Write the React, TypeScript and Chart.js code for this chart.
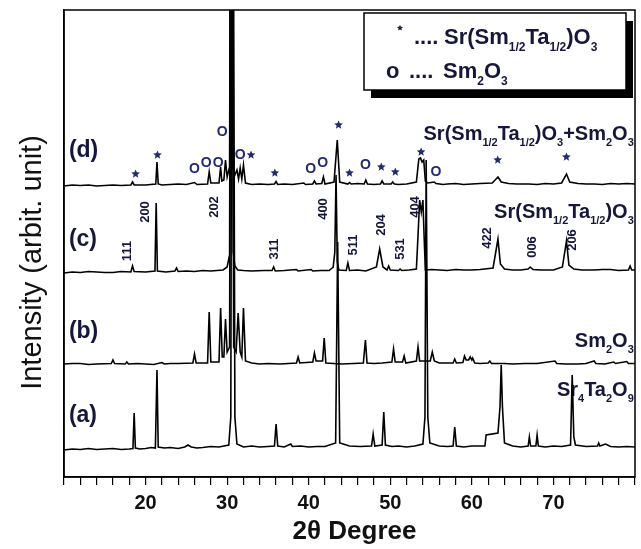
import React, { useEffect, useRef } from 'react';
import { Chart, registerables } from 'chart.js';

Chart.register(...registerables);

// ---------- axis settings ----------
const X_MIN = 10;
const X_MAX = 80;
const Y_MIN = 0;
const Y_MAX = 467;
const X_TICK_STEP = 2;
const X_TICK_LABELS = [20, 30, 40, 50, 60, 70];
const X_TITLE = '2θ Degree';
const Y_TITLE = 'Intensity (arbit. unit)';

// ---------- series: [2θ, intensity(offset)] ----------
const patternA: [number, number][] = [
  [10, 27], [11, 28], [12, 27.5], [13, 28.5], [14, 27.5], [15, 28], [16, 28.5], [17, 27.5], [18, 28], [18.45, 28.5], [18.6, 64], [18.75, 29],
  [19.3, 28], [20, 28.5], [20.7, 29.5], [21.2, 29], [21.4, 107], [21.55, 30], [22.3, 29], [23, 29.5], [24, 28.5], [24.8, 30], [25.2, 32], [25.6, 30],
  [26.3, 29], [27, 29.5], [28, 30.5], [29, 30], [30.2, 32], [30.45, 60], [30.65, 900], [30.95, 60], [31.2, 33], [32, 30],
  [33, 31], [34, 30], [35, 30.5], [35.8, 31], [36.0, 53], [36.2, 31], [37, 30], [37.8, 33], [38, 30.5], [39, 31], [40, 30], [41, 30.5], [42, 30.5],
  [43.3, 34], [43.55, 235], [43.8, 34], [45, 31], [46.3, 30.5], [47.7, 31], [47.9, 43], [48.1, 31], [49.0, 32],
  [49.2, 65], [49.4, 32], [50.2, 30.5], [51, 31], [52, 30], [53, 31], [54.0, 33], [54.25, 60], [54.4, 317], [54.6, 60],
  [54.85, 34], [56, 31], [57, 30.5], [57.7, 31], [57.9, 50], [58.1, 31], [59, 30], [60, 31], [61.6, 31], [61.75, 42],
  [63.2, 44], [63.45, 70], [63.6, 112], [63.75, 70], [64.0, 34], [65, 31], [66, 30], [66.9, 31], [67.05, 40],
  [67.2, 31], [67.85, 31], [68.0, 42], [68.15, 31], [69, 30], [70, 31], [71, 30.5], [72.1, 32], [72.3, 102], [72.5, 40],
  [72.7, 32], [74, 30.5], [75.4, 31], [75.55, 34], [75.7, 31], [76.4, 33], [77, 30.5], [78, 30], [79, 30.5], [80, 30],
];

const patternB: [number, number][] = [
  [10, 113], [11, 113.5], [12, 113.5], [13, 112.5], [14, 113], [15.8, 113.5], [16.0, 117], [16.2, 113.5], [17.5, 113], [17.7, 115],
  [17.9, 113], [19, 113.5], [20, 113], [21, 112.5], [22, 114.5], [22.3, 113], [23, 113.5], [24, 113.5], [25.8, 114], [26.0, 123], [26.2, 114],
  [27.6, 114], [27.8, 165], [28.0, 115], [29.0, 115], [29.2, 169], [29.4, 120], [29.6, 120], [29.8, 158],
  [30.0, 125], [30.3, 130], [30.55, 900], [30.8, 130], [31.1, 125], [31.35, 164], [31.6, 125], [31.8, 120],
  [32.0, 169], [32.25, 116], [33, 114], [34, 113], [35, 113.5], [36.5, 113], [38.5, 114], [38.7, 120], [38.9, 114], [40.5, 115],
  [40.7, 124], [40.9, 116], [41.7, 116], [41.9, 139], [42.1, 114], [44, 113], [45.5, 113.5], [46.7, 114], [46.95, 137],
  [47.15, 114], [48, 113.5], [49, 114], [50.2, 115], [50.4, 128], [50.6, 115], [51.5, 115], [51.7, 121], [51.9, 114],
  [53.2, 116], [53.4, 130], [53.6, 116], [54.2, 116], [54.9, 116], [55.15, 125], [55.4, 116], [56, 114], [57, 114],
  [57.7, 114], [57.9, 118], [58.1, 114], [58.9, 114.5], [59.1, 121], [59.3, 117], [59.6, 117], [59.8, 120],
  [60.0, 117], [60.1, 119], [60.35, 114], [61, 113.5], [62.0, 114], [62.2, 116], [62.4, 113.5], [64, 113.5], [65, 113], [66.5, 113.5], [68, 113.5],
  [70.2, 116], [70.4, 113.5], [71.5, 113], [73, 113], [74, 113.5], [75.0, 116], [75.2, 113.5], [76.3, 113], [77.4, 115], [77.6, 113.5], [79.0, 115.5],
  [79.2, 113.5], [80, 113.5],
];

const patternC: [number, number][] = [
  [10, 204], [11, 205], [12, 204.5], [13, 205.5], [14, 205], [15, 204.5], [16, 204.5], [17, 205.5], [18.2, 205], [18.4, 211], [18.6, 205.5], [20, 205],
  [21.15, 206], [21.3, 274], [21.45, 206], [22.5, 205], [23.6, 206], [23.8, 209], [24.0, 205.5], [25, 206], [26, 205.5], [27, 206.5], [28, 206],
  [29.5, 207], [30.0, 210], [30.3, 222], [30.5, 900], [30.75, 225], [30.95, 211], [31.3, 207], [32, 206.5], [33, 206], [34.5, 206.5],
  [35.5, 206.5], [35.7, 210], [35.9, 206], [37, 206.5], [38.5, 207.5], [38.7, 206], [40.3, 207.5], [40.5, 206], [41.5, 206.5], [42.5, 206.5],
  [43.0, 210], [43.2, 225], [43.35, 302], [43.5, 215], [43.7, 207], [44.6, 206.5], [44.8, 214], [45.0, 206.5],
  [46, 207], [47, 206], [48.3, 210], [48.7, 228], [49.1, 210], [49.6, 207], [49.8, 211], [50.0, 207], [51, 206.5],
  [51.2, 208], [51.4, 206.5], [52.3, 207], [53.2, 208], [53.45, 250], [53.6, 277], [53.8, 265], [54.0, 277], [54.15, 240],
  [54.3, 207], [55, 207.5], [56, 207], [57, 206.5], [58, 207.5], [59, 207], [60, 207], [61, 207.5], [62.6, 209], [63.2, 238], [63.5, 213], [64.0, 208],
  [65, 207], [66, 207], [66.9, 208], [67.15, 210], [67.5, 207.5], [68.5, 207], [70, 207], [71.1, 210], [71.6, 236], [71.9, 212],
  [72.5, 208], [73.5, 207], [75, 207], [76, 207.5], [77, 207.5], [78, 206.5], [79.2, 207], [79.4, 211], [79.6, 207], [80, 207],
];

const patternD: [number, number][] = [
  [10, 291], [11, 292], [12, 291.5], [13, 292], [14, 291], [15, 291.5], [16, 292], [17, 291.5], [18.2, 292], [18.4, 295], [18.6, 292], [20, 292],
  [21.25, 293], [21.4, 315], [21.55, 293], [22, 292], [23, 292.5], [24, 293], [25, 292.5], [26.0, 294.5], [26.3, 292.5], [27.6, 293],
  [27.8, 305], [28.0, 294], [29.0, 294], [29.2, 310], [29.35, 296], [29.6, 297], [29.8, 317], [30.0, 300],
  [30.3, 310], [30.5, 900], [30.7, 310], [30.95, 302], [31.2, 307], [31.4, 298], [31.6, 309], [31.8, 298],
  [32.0, 312], [32.25, 294], [33, 292.5], [34, 293], [35, 292.5], [35.8, 293], [36.0, 295.5], [36.2, 292.5], [37, 293], [38, 292.5], [39.4, 294],
  [39.6, 292.5], [40.5, 293], [40.7, 296], [40.9, 293], [41.6, 293.5], [41.8, 300], [42.0, 293], [43.1, 295],
  [43.5, 337], [43.8, 295], [44.8, 293], [45.0, 294.5], [45.2, 293], [46, 293.5], [46.8, 293], [47.0, 297], [47.2, 293],
  [48, 292.5], [48.8, 293], [49.0, 296], [49.2, 293], [50.1, 293], [50.3, 295], [50.5, 293], [51, 292.5], [52, 293], [53.2, 295],
  [53.5, 318], [53.7, 319], [53.9, 315], [54.1, 317], [54.3, 296], [54.6, 294], [55.4, 295], [55.6, 293.5],
  [56.5, 292.5], [57, 293], [58, 293.5], [59, 292.5], [60, 293], [61, 293.5], [62.5, 294], [63.2, 300], [63.6, 295], [64.5, 293.5],
  [65.5, 293], [67, 293], [68, 292.5], [69, 293.5], [70, 293],
  [71.0, 294], [71.6, 303], [72.0, 295], [73, 293.5], [74, 293], [75, 293], [76, 292.5], [77, 293.5], [78, 293], [79, 293.5], [80, 293],
];

// ---------- annotations (data coordinates) ----------
const sampleLabels = [
  { text: '(d)', x: 10.6, y: 326 },
  { text: '(c)', x: 10.6, y: 237 },
  { text: '(b)', x: 10.6, y: 145 },
  { text: '(a)', x: 10.6, y: 61 },
];

type Part = { t: string; sub?: boolean };
const phaseLabels: { parts: Part[]; x: number; y: number }[] = [
  {
    parts: [{ t: 'Sr(Sm' }, { t: '1/2', sub: true }, { t: 'Ta' }, { t: '1/2', sub: true }, { t: ')O' }, { t: '3', sub: true },
      { t: '+Sm' }, { t: '2', sub: true }, { t: 'O' }, { t: '3', sub: true }],
    x: 79.85, y: 337,
  },
  {
    parts: [{ t: 'Sr(Sm' }, { t: '1/2', sub: true }, { t: 'Ta' }, { t: '1/2', sub: true }, { t: ')O' }, { t: '3', sub: true }],
    x: 79.85, y: 259,
  },
  { parts: [{ t: 'Sm' }, { t: '2', sub: true }, { t: 'O' }, { t: '3', sub: true }], x: 79.85, y: 130 },
  { parts: [{ t: 'Sr' }, { t: '4', sub: true }, { t: 'Ta' }, { t: '2', sub: true }, { t: 'O' }, { t: '9', sub: true }], x: 79.85, y: 81 },
];

const millerIndices = [
  { text: '111', x: 17.8, y: 226 },
  { text: '200', x: 20.0, y: 265 },
  { text: '202', x: 28.41, y: 270 },
  { text: '311', x: 35.85, y: 228 },
  { text: '400', x: 41.83, y: 268 },
  { text: '511', x: 45.49, y: 232 },
  { text: '204', x: 48.9, y: 252 },
  { text: '531', x: 51.22, y: 228 },
  { text: '404', x: 53.05, y: 270 },
  { text: '422', x: 61.95, y: 239 },
  { text: '006', x: 67.44, y: 230 },
  { text: '206', x: 72.32, y: 237 },
];

const starMarks: [number, number][] = [
  [18.78, 303], [21.46, 322], [32.93, 322], [35.85, 304], [43.66, 352], [45.0, 304],
  [48.9, 310], [50.61, 305], [53.78, 325], [63.17, 317], [71.59, 320],
];

const circleMarks: [number, number][] = [
  [25.98, 308], [27.44, 314], [28.9, 314], [29.39, 345], [31.59, 322], [40.24, 308],
  [41.71, 314], [46.95, 312], [55.61, 305],
];

const legendLine1: Part[] = [{ t: 'Sr(Sm' }, { t: '1/2', sub: true }, { t: 'Ta' }, { t: '1/2', sub: true }, { t: ')O' }, { t: '3', sub: true }];
const legendLine2: Part[] = [{ t: 'Sm' }, { t: '2', sub: true }, { t: 'O' }, { t: '3', sub: true }];

const FONT = '"Liberation Sans", Arial, Helvetica, sans-serif';
const TEXT_COLOR = '#15163a';
const MARK_COLOR = '#232a6e';

function drawRich(ctx: CanvasRenderingContext2D, parts: Part[], x: number, y: number, size: number, subSize: number, align: 'left' | 'right') {
  const main = `bold ${size}px ${FONT}`;
  const sub = `bold ${subSize}px ${FONT}`;
  let w = 0;
  for (const p of parts) {
    ctx.font = p.sub ? sub : main;
    w += ctx.measureText(p.t).width;
  }
  let cx = align === 'right' ? x - w : x;
  ctx.textAlign = 'left';
  ctx.textBaseline = 'alphabetic';
  for (const p of parts) {
    ctx.font = p.sub ? sub : main;
    ctx.fillText(p.t, cx, p.sub ? y + size * 0.32 : y);
    cx += ctx.measureText(p.t).width;
  }
}

function drawStar(ctx: CanvasRenderingContext2D, cx: number, cy: number, r: number) {
  ctx.beginPath();
  for (let i = 0; i < 10; i++) {
    const rr = i % 2 === 0 ? r : r * 0.45;
    const ang = -Math.PI / 2 + (i * Math.PI) / 5;
    const px = cx + rr * Math.cos(ang);
    const py = cy + rr * Math.sin(ang);
    if (i === 0) ctx.moveTo(px, py);
    else ctx.lineTo(px, py);
  }
  ctx.closePath();
  ctx.fill();
}

const annotatePlugin = {
  id: 'xrdAnnotate',
  beforeDatasetsDraw(chart: any) {
    const { ctx, scales } = chart;
    const xs = scales.x;
    const ys = scales.y;
    ctx.save();
    ctx.fillStyle = TEXT_COLOR;
    ctx.font = `bold 23px ${FONT}`;
    ctx.textAlign = 'left';
    ctx.textBaseline = 'middle';
    for (const l of sampleLabels) ctx.fillText(l.text, xs.getPixelForValue(l.x), ys.getPixelForValue(l.y));
    for (const p of phaseLabels) drawRich(ctx, p.parts, xs.getPixelForValue(p.x), ys.getPixelForValue(p.y), 20, 11, 'right');
    ctx.font = `bold 13px ${FONT}`;
    ctx.textAlign = 'center';
    ctx.textBaseline = 'middle';
    for (const m of millerIndices) {
      ctx.save();
      ctx.translate(xs.getPixelForValue(m.x), ys.getPixelForValue(m.y));
      ctx.rotate(-Math.PI / 2);
      ctx.fillText(m.text, 0, 0);
      ctx.restore();
    }
    ctx.restore();
  },
  afterDatasetsDraw(chart: any) {
    const { ctx, chartArea: a, scales } = chart;
    const xs = scales.x;
    const ys = scales.y;
    ctx.save();
    ctx.strokeStyle = '#000';
    ctx.lineWidth = 1.5;
    ctx.strokeRect(a.left, a.top, a.right - a.left, a.bottom - a.top);

    ctx.fillStyle = MARK_COLOR;
    for (const [x, y] of starMarks) drawStar(ctx, xs.getPixelForValue(x), ys.getPixelForValue(y), 4.5);
    ctx.font = `bold 14px ${FONT}`;
    ctx.textAlign = 'center';
    ctx.textBaseline = 'middle';
    for (const [x, y] of circleMarks) ctx.fillText('O', xs.getPixelForValue(x), ys.getPixelForValue(y));

    // legend box
    const bx = a.right - 271;
    const by = a.top + 3;
    const bw = 262;
    const bh = 77;
    ctx.fillStyle = '#000';
    ctx.fillRect(bx + 7, by + 8, bw, bh);
    ctx.fillStyle = '#fff';
    ctx.fillRect(bx, by, bw, bh);
    ctx.strokeStyle = '#000';
    ctx.lineWidth = 1.5;
    ctx.strokeRect(bx, by, bw, bh);

    ctx.fillStyle = TEXT_COLOR;
    drawStar(ctx, bx + 36, by + 15, 3.2);
    ctx.font = `bold 22px ${FONT}`;
    ctx.textAlign = 'left';
    ctx.textBaseline = 'alphabetic';
    ctx.fillText('....', bx + 50, by + 31);
    drawRich(ctx, legendLine1, bx + 80, by + 31, 22, 12, 'left');
    ctx.font = `bold 22px ${FONT}`;
    ctx.textAlign = 'left';
    ctx.textBaseline = 'alphabetic';
    ctx.fillText('o', bx + 22, by + 65);
    ctx.fillText('....', bx + 45, by + 65);
    drawRich(ctx, legendLine2, bx + 79, by + 65, 22, 12, 'left');

    // axis titles
    ctx.fillStyle = '#111';
    ctx.font = `bold 26px ${FONT}`;
    ctx.textAlign = 'center';
    ctx.textBaseline = 'middle';
    ctx.fillText(X_TITLE, (a.left + a.right) / 2 + 5, a.bottom + 55);
    ctx.save();
    ctx.translate(33, (a.top + a.bottom) / 2 + 19);
    ctx.rotate(-Math.PI / 2);
    ctx.font = `29px ${FONT}`;
    ctx.fillText(Y_TITLE, 0, 0);
    ctx.restore();
    ctx.restore();
  },
};

const series = [patternD, patternC, patternB, patternA];

export default function App() {
  const ref = useRef<HTMLCanvasElement | null>(null);
  useEffect(() => {
    if (!ref.current) return;
    const chart = new Chart(ref.current, {
      type: 'scatter',
      data: {
        datasets: series.map((s) => ({
          data: s.map(([x, y]) => ({ x, y })),
          showLine: true,
          borderColor: '#000',
          borderWidth: 1.6,
          pointRadius: 0,
          tension: 0,
        })),
      },
      options: {
        animation: false,
        responsive: false,
        devicePixelRatio: 1,
        layout: { padding: { top: 10, right: 3, left: 0, bottom: 0 } },
        plugins: { legend: { display: false }, tooltip: { enabled: false } },
        events: [],
        scales: {
          x: {
            type: 'linear',
            min: X_MIN,
            max: X_MAX,
            afterFit: (s: any) => { s.height = 72; },
            ticks: {
              stepSize: X_TICK_STEP,
              autoSkip: false,
              maxRotation: 0,
              padding: 6,
              color: '#111',
              font: { family: FONT, size: 20, weight: 'bold' },
              callback: (v: any) => (X_TICK_LABELS.includes(Number(v)) ? String(v) : ''),
            },
            grid: { drawOnChartArea: false, drawTicks: true, tickLength: 8, color: '#000', lineWidth: 1.2 },
            border: { display: true, color: '#000', width: 1.5 },
          },
          y: {
            min: Y_MIN,
            max: Y_MAX,
            afterFit: (s: any) => { s.width = 64; },
            ticks: { display: false },
            grid: { display: false },
            border: { display: true, color: '#000', width: 1.5 },
          },
        },
      },
      plugins: [annotatePlugin],
    } as any);
    return () => chart.destroy();
  }, []);
  return (
    <div style={{ position: 'absolute', left: 0, top: 0, width: 641, height: 549, background: '#fff' }}>
      <canvas ref={ref} width={641} height={549} style={{ display: 'block' }} />
    </div>
  );
}
